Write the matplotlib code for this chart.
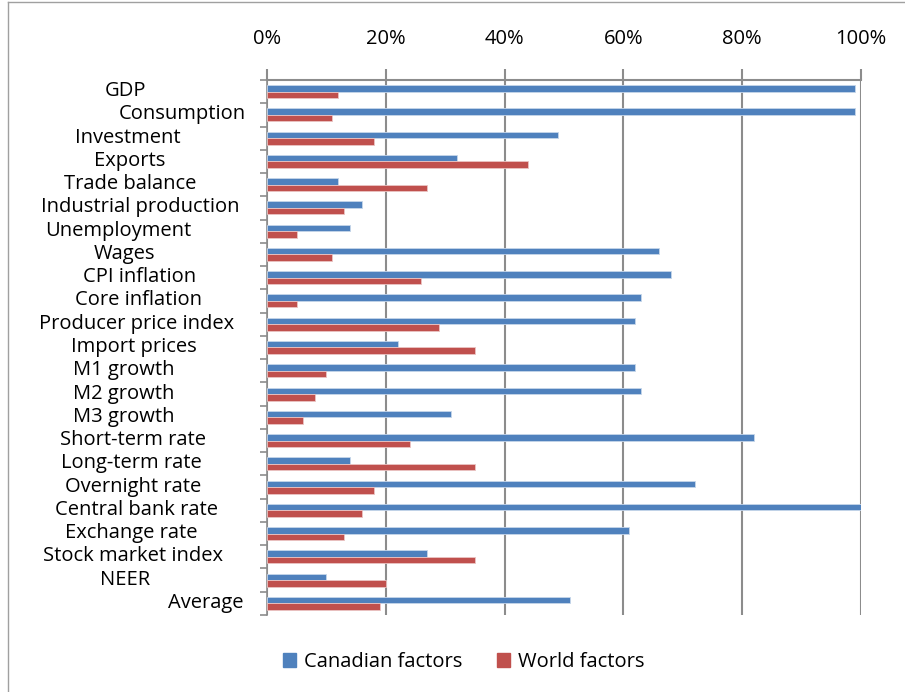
import matplotlib.pyplot as plt
from matplotlib.ticker import PercentFormatter
from matplotlib.lines import Line2D
from matplotlib.patches import Patch

categories = ['GDP', 'Consumption', 'Investment', 'Exports', 'Trade balance',
              'Industrial production', 'Unemployment', 'Wages', 'CPI inflation',
              'Core inflation', 'Producer price index', 'Import prices',
              'M1 growth', 'M2 growth', 'M3 growth', 'Short-term rate',
              'Long-term rate', 'Overnight rate', 'Central bank rate',
              'Exchange rate', 'Stock market index', 'NEER', 'Average']
canadian = [0.99, 0.99, 0.49, 0.32, 0.12, 0.16, 0.14, 0.66, 0.68, 0.63, 0.62,
            0.22, 0.62, 0.63, 0.31, 0.82, 0.14, 0.72, 1.00, 0.61, 0.27, 0.10, 0.51]
world = [0.12, 0.11, 0.18, 0.44, 0.27, 0.13, 0.05, 0.11, 0.26, 0.05, 0.29,
         0.35, 0.10, 0.08, 0.06, 0.24, 0.35, 0.18, 0.16, 0.13, 0.35, 0.20, 0.19]

# excel puts the wrapped labels at slightly different centres
label_x = [125, 182, 128, 130, 130, 140, 118, 124, 140, 138, 137, 134,
           124, 124, 124, 133, 131, 133, 136, 131, 133, 125, 206]

W, H = 905, 692
blue = '#4F81BD'
red = '#C0504D'
grid = '#8C8C8C'
fs = 14.5
plt.rcParams['font.family'] = ['Open Sans', 'DejaVu Sans']

fig = plt.figure(figsize=(W / 100, H / 100), dpi=100)
ax = fig.add_axes([267 / W, 1 - 615 / H, (861 - 267) / W, (615 - 80) / H])

y = list(range(len(categories)))
h = 0.28
ax.barh([v - h / 2 for v in y], canadian, height=h, color=blue,
        edgecolor='#C6D6EA', linewidth=0.6, zorder=3)
ax.barh([v + h / 2 for v in y], world, height=h, color=red,
        edgecolor='#EAC4C3', linewidth=0.6, zorder=3)

ax.set_xlim(0, 1)
ax.set_ylim(len(categories) - 0.5, -0.5)
ax.xaxis.tick_top()
ax.set_xticks([0, 0.2, 0.4, 0.6, 0.8, 1.0])
ax.xaxis.set_major_formatter(PercentFormatter(1.0, decimals=0))
ax.tick_params(axis='x', length=8, width=1.5, color=grid, labelsize=fs, pad=14)
ax.set_yticks([v - 0.5 for v in range(len(categories) + 1)])
ax.set_yticklabels([])
ax.tick_params(axis='y', length=5, width=1.2, color=grid)
ax.grid(axis='x', color=grid, linewidth=1.5, zorder=0)
for s in ['right', 'bottom']:
    ax.spines[s].set_visible(False)
ax.spines['top'].set_color(grid)
ax.spines['top'].set_linewidth(1.5)
ax.spines['left'].set_color(grid)
ax.spines['left'].set_linewidth(1.2)

for i, name in enumerate(categories):
    fy = 1 - (80 + (615 - 80) * (i + 0.5) / len(categories) - 0.5) / H
    fig.text(label_x[i] / W, fy, name, ha='center', va='center', fontsize=fs)

handles = [Patch(color=blue), Patch(color=red)]
fig.legend(handles, ['Canadian factors', 'World factors'], loc='center',
           bbox_to_anchor=(464 / W, 1 - 662 / H), ncol=2, frameon=False,
           fontsize=fs, handlelength=0.65, handleheight=0.65,
           handletextpad=0.4, columnspacing=1.7)

fig.add_artist(Line2D([8 / W, 8 / W], [0, 1 - 2 / H], color='#A0A0A0', linewidth=1))
fig.add_artist(Line2D([8 / W, 1], [1 - 2 / H, 1 - 2 / H], color='#A0A0A0', linewidth=1))

fig.savefig('out.png', dpi=100)
